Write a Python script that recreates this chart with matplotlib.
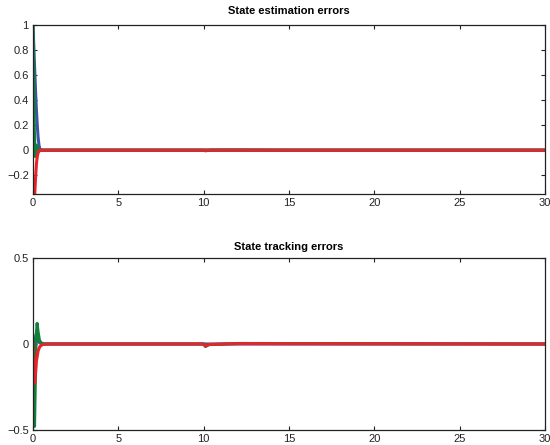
import numpy as np
import matplotlib.pyplot as plt

plt.rcParams['font.family'] = ['Liberation Sans', 'DejaVu Sans']

## values
# top panel: state estimation errors
t_est_blue = [0, 0.05, 0.1, 0.15, 0.2, 0.25, 0.3, 0.35, 0.4, 0.5, 5, 10, 30]
e_blue = [1.0, 0.82, 0.64, 0.47, 0.32, 0.2, 0.1, 0.04, 0.01, 0.0, 0.0, 0.0, 0.0]

t_est_green = [0, 0.04, 0.08, 0.12, 0.2, 0.28, 0.4, 1, 10, 30]
e_green = [1.0, 0.6, 0.15, -0.05, 0.04, 0.01, 0.0, 0.0, 0.0, 0.0]

t_est_red = [0, 0.1, 0.15, 0.2, 0.25, 0.3, 0.4, 1, 10, 30]
e_red = [-0.6, -0.36, -0.22, -0.11, -0.05, -0.02, 0.0, 0.0, 0.0, 0.0]

t_est_gray = [0, 10, 10.1, 10.4, 12, 15, 30]
e_gray = [0.0, 0.0, -0.006, 0.002, 0.003, 0.0, 0.0]

# bottom panel: state tracking errors
t_trk_green = [0, 0.03, 0.06, 0.09, 0.13, 0.18, 0.24, 0.3, 0.38, 0.5, 0.7, 10, 10.1, 10.3, 12, 30]
s_green = [0.05, -0.05, -0.35, -0.48, -0.25, 0.03, 0.12, 0.07, 0.02, 0.005, 0.0, 0.0, -0.015, -0.004, 0.003, 0.0]

t_trk_blue = [0, 0.05, 0.15, 0.25, 0.35, 0.5, 0.7, 10, 30]
s_blue = [0.0, -0.03, 0.0, 0.03, 0.01, 0.0, 0.0, 0.0, 0.0]

t_trk_red = [0, 0.04, 0.1, 0.15, 0.2, 0.3, 0.4, 0.55, 0.8, 10, 10.1, 10.3, 12, 30]
s_red = [0.0, -0.12, -0.23, -0.17, -0.1, -0.04, -0.015, -0.004, 0.0, 0.0, -0.012, -0.003, 0.002, 0.0]

c_blue = '#3d55a8'
c_green = '#12803c'
c_red = '#e8232a'
c_gray = '#808080'
lw = 2.2

fig = plt.figure(figsize=(5.5, 4.45), dpi=100)
ax1 = fig.add_axes([0.06, 0.564, 0.931, 0.38])
ax2 = fig.add_axes([0.06, 0.034, 0.931, 0.386])

ax1.plot(t_est_gray, e_gray, color=c_gray, lw=lw)
ax1.plot(t_est_blue, e_blue, color=c_blue, lw=lw)
ax1.plot(t_est_green, e_green, color=c_green, lw=lw)
ax1.plot(t_est_red, e_red, color=c_red, lw=lw)
ax1.set_xlim(0, 30)
ax1.set_ylim(-0.35, 1)
ax1.set_yticks([-0.2, 0, 0.2, 0.4, 0.6, 0.8, 1])
ax1.set_yticklabels(['\u22120.2', '0', '0.2', '0.4', '0.6', '0.8', '1'])
ax1.set_xticks(range(0, 31, 5))
ax1.set_title('State estimation errors', fontsize=8, fontweight='bold', pad=8)

ax2.plot(t_trk_blue, s_blue, color=c_blue, lw=lw)
ax2.plot(t_trk_green, s_green, color=c_green, lw=lw)
ax2.plot(t_trk_red, s_red, color=c_red, lw=lw)
ax2.set_xlim(0, 30)
ax2.set_ylim(-0.5, 0.5)
ax2.set_yticks([-0.5, 0, 0.5])
ax2.set_yticklabels(['\u22120.5', '0', '0.5'])
ax2.set_xticks(range(0, 31, 5))
ax2.set_title('State tracking errors', fontsize=8, fontweight='bold', pad=6)

for ax in (ax1, ax2):
    ax.tick_params(direction='in', top=True, right=True, labelsize=8,
                   length=3, width=0.8, colors='#222222', pad=3)
    for s in ax.spines.values():
        s.set_linewidth(0.9)
        s.set_color('#222222')

fig.savefig('out.png', dpi=100)
